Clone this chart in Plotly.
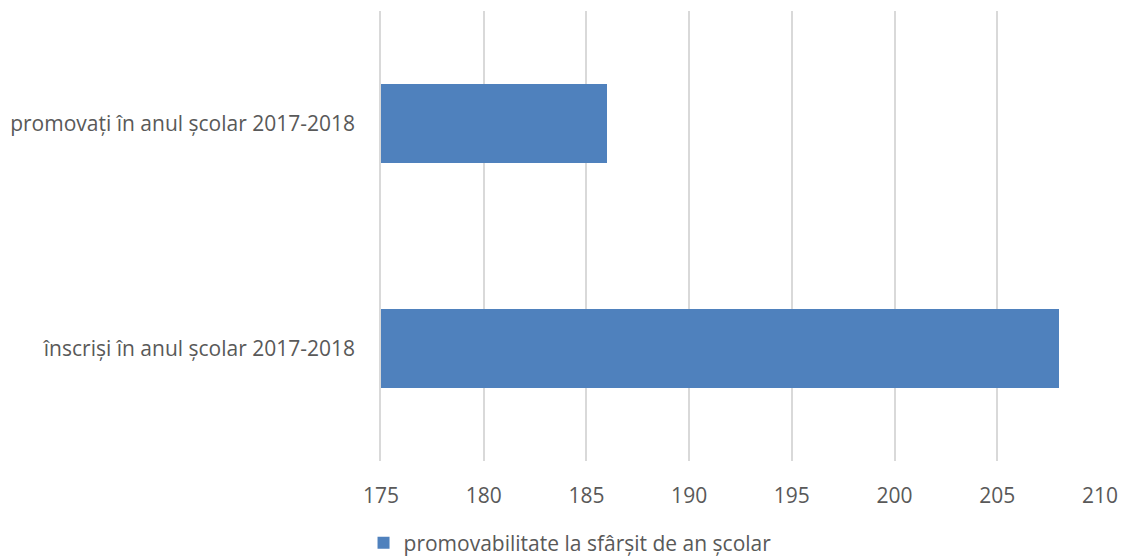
import plotly.graph_objects as go

categories = ["înscriși în anul școlar 2017-2018", "promovați în anul școlar 2017-2018"]
values = [208, 186]
series_name = "promovabilitate la sfârșit de an școlar"
x_ticks = [175, 180, 185, 190, 195, 200, 205, 210]

font_family = "Open Sans, Liberation Sans, sans-serif"
text_color = "#595959"
fs = 21

fig = go.Figure()
fig.add_trace(go.Bar(
    y=categories, x=values, orientation="h", name=series_name,
    marker=dict(color="#4f81bd", line=dict(width=0)),
    width=0.355, showlegend=True,
))

fig.update_layout(
    width=1122, height=558,
    margin=dict(l=381, r=22, t=11, b=97, autoexpand=False),
    paper_bgcolor="white", plot_bgcolor="white",
    font=dict(family=font_family, size=fs, color=text_color),
    showlegend=True,
    legend=dict(
        orientation="h", xref="container", yref="container",
        x=0.324, xanchor="left", y=1 - 543 / 558, yanchor="middle",
        font=dict(size=fs, color=text_color),
        itemwidth=30,
    ),
    bargap=0,
)
fig.update_xaxes(
    range=[175, 210], tickvals=x_ticks, showgrid=True,
    gridcolor="#d9d9d9", gridwidth=1.5, zeroline=False,
    showline=False, ticks="", ticklabelstandoff=20,
    tickfont=dict(size=fs, color=text_color),
)
fig.update_yaxes(
    range=[-0.5, 1.5], showgrid=False, showline=True,
    linecolor="#d9d9d9", linewidth=1.5, ticks="", ticklabelstandoff=20,
    tickfont=dict(size=fs, color=text_color),
)

fig.write_html(
    "out.html",
    config={"displayModeBar": False},
    post_script="document.body.style.margin='0';document.body.style.overflow='hidden';",
)
